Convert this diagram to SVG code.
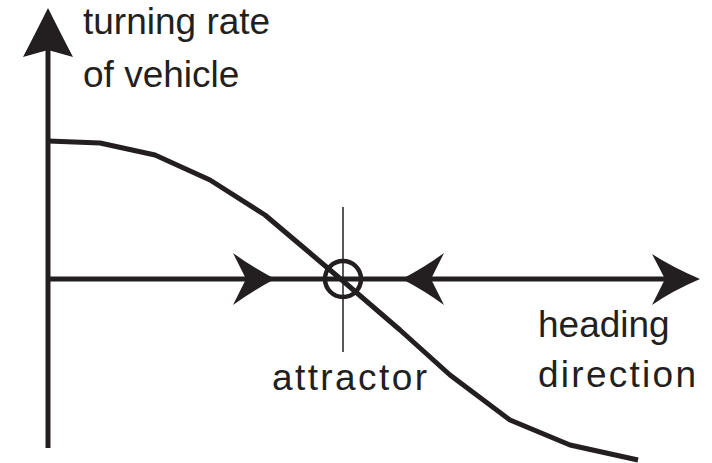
<svg xmlns="http://www.w3.org/2000/svg" width="712" height="463" viewBox="0 0 712 463">
<style>
.ax{stroke:#231f20;stroke-width:5;fill:none}
.hd{fill:#231f20;stroke:none}
.lbl{font-family:"Liberation Sans",Arial,sans-serif;font-size:37px;fill:#231f20}
</style>
<rect width="712" height="463" fill="#fff"/>
<g id="axes">
<line class="ax" x1="48" y1="48" x2="48" y2="448"/>
<line class="ax" x1="48" y1="279" x2="668" y2="279"/>
<path class="hd" d="M48,8 Q62,36 73,57 L48,50 L23,57 Q34,36 48,8 Z"/>
<path class="hd" d="M700,279 Q672,291 652,305 L665,279 L652,254 Q672,267 700,279 Z"/>
</g>
<g id="flow-arrows">
<path class="hd" d="M275,279 Q252,291 233,305 L246,279 L233,253 Q252,267 275,279 Z"/>
<path class="hd" d="M402,279 Q425,291 444,305 L431,279 L444,253 Q425,267 402,279 Z"/>
</g>
<g id="curve">
<polyline class="ax" stroke-linejoin="round" points="48,141 100,143 155,155 210,180 265,215 310,253 343,281 400,330 450,375 510,420 570,445 638,460"/>
</g>
<g id="attractor">
<line x1="343" y1="207" x2="343" y2="352" stroke="#231f20" stroke-width="1.5"/>
<circle cx="343" cy="279" r="18" fill="none" stroke="#231f20" stroke-width="4.5"/>
<text class="lbl" x="272" y="390" textLength="155" lengthAdjust="spacing">attractor</text>
</g>
<g id="labels">
<text class="lbl" x="83" y="34">turning rate</text>
<text class="lbl" x="83" y="87">of vehicle</text>
<text class="lbl" x="538" y="337">heading</text>
<text class="lbl" x="538" y="387" textLength="158" lengthAdjust="spacing">direction</text>
</g>
</svg>
